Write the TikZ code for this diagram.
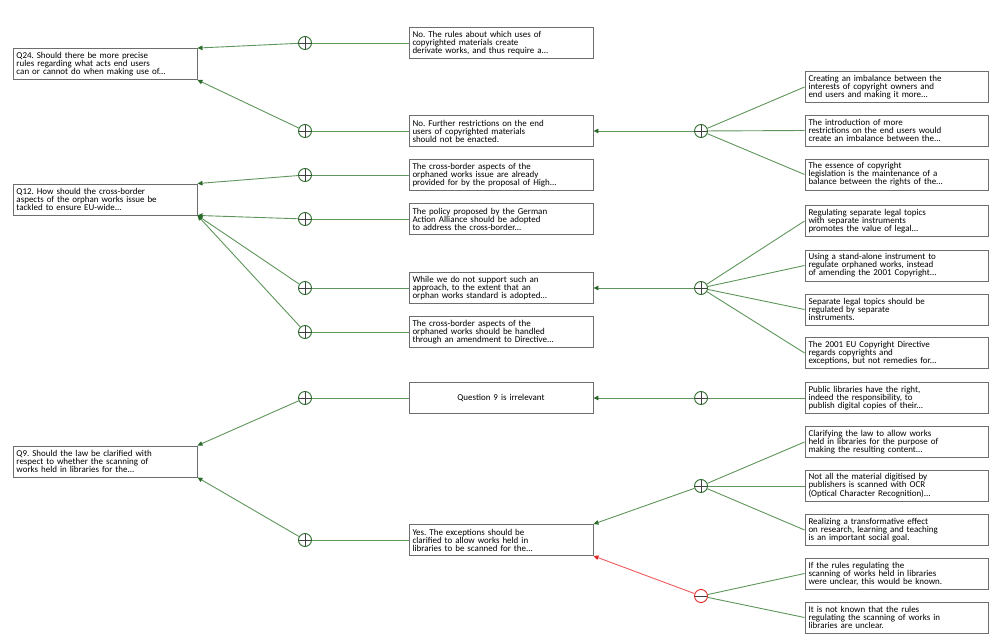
\documentclass[tikz,border=0pt]{standalone}
\usepackage{fontspec}
\setmainfont{Carlito}
\usetikzlibrary{arrows.meta}
\frenchspacing

\definecolor{boxgray}{HTML}{6E6E6E}
\definecolor{lgreen}{HTML}{5E955A}
\definecolor{dgreen}{HTML}{2C6A2C}
\definecolor{lred}{HTML}{F05A5A}
\definecolor{dred}{HTML}{E02828}

\tikzset{
  argbox/.style={draw=boxgray, line width=0.9bp, fill=white, minimum height=31bp,
    inner xsep=3.5bp, inner ysep=2.5bp, align=left,
    font=\fontsize{9}{8}\selectfont\frenchspacing},
  leftbox/.style={argbox, text width=177bp},
  midbox/.style={argbox, text width=177bp},
  rightbox/.style={argbox, text width=176bp},
  probub/.style={circle, draw=dgreen, line width=0.9bp, minimum size=13bp, inner sep=0pt,
    path picture={\draw[black!75, line width=0.7bp]
      (path picture bounding box.north) -- (path picture bounding box.south)
      (path picture bounding box.west) -- (path picture bounding box.east);}},
  conbub/.style={circle, draw=dred, line width=0.9bp, minimum size=13bp, inner sep=0pt,
    path picture={\draw[black!75, line width=0.7bp]
      (path picture bounding box.west) -- (path picture bounding box.east);}},
  link/.style={draw=lgreen, line width=0.9bp},
  prolink/.style={link, -{Triangle[length=5bp,width=4.5bp,color=dgreen]}},
  conlink/.style={draw=lred, line width=0.9bp, -{Triangle[length=5bp,width=4.5bp,color=dred]}},
}

\begin{document}
\begin{tikzpicture}[x=1bp,y=-1bp]
\useasboundingbox (0,0) rectangle (1004,643);

% questions
\node[leftbox] (q24) at (105,64) {Q24. Should there be more precise\\rules regarding what acts end users\\can or cannot do when making use of...};
\node[leftbox] (q12) at (105,199.5) {Q12. How should the cross-border\\aspects of the orphan works issue be\\tackled to ensure EU-wide...};
\node[leftbox] (q9) at (105,461.5) {Q9. Should the law be clarified with\\respect to whether the scanning of\\works held in libraries for the...};

% answers
\node[midbox] (m1) at (501,43) {No. The rules about which uses of\\copyrighted materials create\\derivate works, and thus require a...};
\node[midbox] (m2) at (501,131) {No. Further restrictions on the end\\users of copyrighted materials\\should not be enacted.};
\node[midbox] (m3) at (501,175) {The cross-border aspects of the\\orphaned works issue are already\\provided for by the proposal of High...};
\node[midbox] (m4) at (501,219) {The policy proposed by the German\\Action Alliance should be adopted\\to address the cross-border...};
\node[midbox] (m5) at (501,288) {While we do not support such an\\approach, to the extent that an\\orphan works standard is adopted...};
\node[midbox] (m6) at (501,332) {The cross-border aspects of the\\orphaned works should be handled\\through an amendment to Directive...};
\node[midbox, align=center] (m7) at (501,398) {Question 9 is irrelevant};
\node[midbox] (m8) at (501,540) {Yes. The exceptions should be\\clarified to allow works held in\\libraries to be scanned for the...};

% arguments
\node[rightbox] (a1) at (896.5,87) {Creating an imbalance between the\\interests of copyright owners and\\end users and making it more...};
\node[rightbox] (a2) at (896.5,130.5) {The introduction of more\\restrictions on the end users would\\create an imbalance between the...};
\node[rightbox] (a3) at (896.5,174.5) {The essence of copyright\\legislation is the maintenance of a\\balance between the rights of the...};
\node[rightbox] (a4) at (896.5,221) {Regulating separate legal topics\\with separate instruments\\promotes the value of legal...};
\node[rightbox] (a5) at (896.5,265.5) {Using a stand-alone instrument to\\regulate orphaned works, instead\\of amending the 2001 Copyright...};
\node[rightbox] (a6) at (896.5,309.5) {Separate legal topics should be\\regulated by separate\\instruments.};
\node[rightbox] (a7) at (896.5,353) {The 2001 EU Copyright Directive\\regards copyrights and\\exceptions, but not remedies for...};
\node[rightbox] (a8) at (896.5,398) {Public libraries have the right,\\indeed the responsibility, to\\publish digital copies of their...};
\node[rightbox] (a9) at (896.5,442) {Clarifying the law to allow works\\held in libraries for the purpose of\\making the resulting content...};
\node[rightbox] (a10) at (896.5,486) {Not all the material digitised by\\publishers is scanned with OCR\\(Optical Character Recognition)...};
\node[rightbox] (a11) at (896.5,530) {Realizing a transformative effect\\on research, learning and teaching\\is an important social goal.};
\node[rightbox] (a12) at (896.5,573.5) {If the rules regulating the\\scanning of works held in libraries\\were unclear, this would be known.};
\node[rightbox] (a13) at (896.5,617.5) {It is not known that the rules\\regulating the scanning of works in\\libraries are unclear.};

% junctions between questions and answers
\node[probub] (p1) at (305,43) {};
\node[probub] (p2) at (305,131) {};
\node[probub] (p3) at (305,175) {};
\node[probub] (p4) at (305,219) {};
\node[probub] (p5) at (305,288) {};
\node[probub] (p6) at (305,332) {};
\node[probub] (p7) at (305,398) {};
\node[probub] (p8) at (305,540) {};

% junctions between answers and arguments
\node[probub] (r1) at (701,131) {};
\node[probub] (r2) at (701,288) {};
\node[probub] (r3) at (701,398) {};
\node[probub] (r4) at (701,486) {};
\node[conbub] (r5) at (701,596) {};

% answers to questions
\draw[link] (m1.west) -- (p1);
\draw[link] (m2.west) -- (p2);
\draw[link] (m3.west) -- (p3);
\draw[link] (m4.west) -- (p4);
\draw[link] (m5.west) -- (p5);
\draw[link] (m6.west) -- (p6);
\draw[link] (m7.west) -- (p7);
\draw[link] (m8.west) -- (p8);

\draw[prolink] (p1) -- (q24.north east);
\draw[prolink] (p2) -- (q24.south east);
\draw[prolink] (p3) -- (q12.north east);
\draw[prolink] (p4) -- (q12.south east);
\draw[prolink] (p5) -- (q12.south east);
\draw[prolink] (p6) -- (q12.south east);
\draw[prolink] (p7) -- (q9.north east);
\draw[prolink] (p8) -- (q9.south east);

% arguments to answers
\draw[link] (a1.west) -- (r1);
\draw[link] (a2.west) -- (r1);
\draw[link] (a3.west) -- (r1);
\draw[link] (a4.west) -- (r2);
\draw[link] (a5.west) -- (r2);
\draw[link] (a6.west) -- (r2);
\draw[link] (a7.west) -- (r2);
\draw[link] (a8.west) -- (r3);
\draw[link] (a9.west) -- (r4);
\draw[link] (a10.west) -- (r4);
\draw[link] (a11.west) -- (r4);
\draw[link] (a12.west) -- (r5);
\draw[link] (a13.west) -- (r5);

\draw[prolink] (r1) -- (m2.east);
\draw[prolink] (r2) -- (m5.east);
\draw[prolink] (r3) -- (m7.east);
\draw[prolink] (r4) -- (m8.north east);
\draw[conlink] (r5) -- (m8.south east);
\end{tikzpicture}
\end{document}
